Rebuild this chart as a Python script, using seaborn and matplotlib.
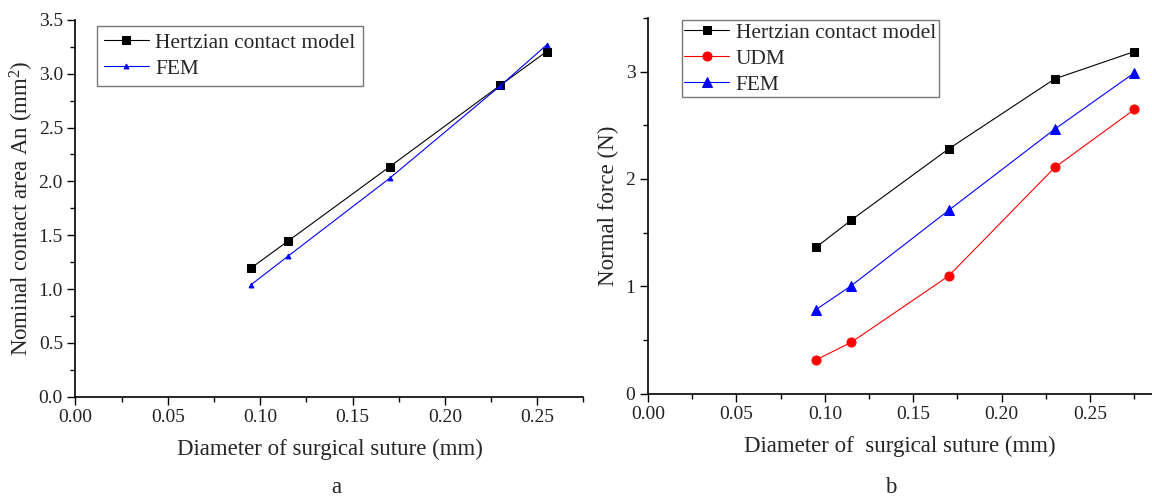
import matplotlib
matplotlib.use("Agg")
import matplotlib.pyplot as plt
from matplotlib.ticker import MultipleLocator, FormatStrFormatter
import seaborn as sns
import pandas as pd

# Panel a: nominal contact area vs suture diameter
diam_a = [0.095, 0.115, 0.17, 0.23, 0.255]
area_hertz = [1.195, 1.445, 2.135, 2.893, 3.205]
area_fem = [1.040, 1.305, 2.028, 2.888, 3.266]

# Panel b: normal force vs suture diameter
diam_b = [0.095, 0.115, 0.17, 0.23, 0.275]
force_hertz = [1.364, 1.618, 2.280, 2.932, 3.186]
force_udm = [0.316, 0.480, 1.097, 2.107, 2.647]
force_fem = [0.784, 1.007, 1.708, 2.464, 2.988]

sns.set_theme(style="ticks")
plt.rcParams["font.family"] = ["Liberation Serif", "DejaVu Serif"]
plt.rcParams["mathtext.fontset"] = "custom"
plt.rcParams["mathtext.rm"] = "Liberation Serif"
plt.rcParams["mathtext.it"] = "Liberation Serif:italic"
plt.rcParams["xtick.direction"] = "out"
plt.rcParams["ytick.direction"] = "out"

fig = plt.figure(figsize=(11.52, 4.96), dpi=100)
ax1 = fig.add_axes([0.0655, 0.2, 0.441, 0.76])
ax2 = fig.add_axes([0.5625, 0.206, 0.4375, 0.758])

TICK_FS = 14
LABEL_FS = 16.5
LEGEND_FS = 15.4


def draw(ax, x, y, color, marker, ms, label):
    df = pd.DataFrame({"x": x, "y": y})
    sns.lineplot(data=df, x="x", y="y", ax=ax, color=color, marker=marker,
                 markersize=ms, markeredgecolor=color, linewidth=0.8,
                 label=label, sort=False)


draw(ax1, diam_a, area_hertz, "black", "s", 6, "Hertzian contact model")
draw(ax1, diam_a, area_fem, "#0000ff", "^", 3.5, "FEM")

draw(ax2, diam_b, force_hertz, "black", "s", 6, "Hertzian contact model")
draw(ax2, diam_b, force_udm, "#ff0000", "o", 6.5, "UDM")
draw(ax2, diam_b, force_fem, "#0000ff", "^", 7.5, "FEM")

for ax in (ax1, ax2):
    sns.despine(ax=ax)
    for sp in ("left", "bottom"):
        ax.spines[sp].set_linewidth(1.2)
        ax.spines[sp].set_color("black")
    ax.xaxis.set_major_locator(MultipleLocator(0.05))
    ax.xaxis.set_minor_locator(MultipleLocator(0.025))
    ax.xaxis.set_major_formatter(FormatStrFormatter("%.2f"))
    ax.tick_params(which="major", length=5.5, width=1, labelsize=TICK_FS,
                   color="black", labelcolor="#222222")
    ax.tick_params(which="minor", length=3.5, width=1, color="black")

legend_style = dict(loc="upper left", fontsize=LEGEND_FS, frameon=True,
                    fancybox=False, edgecolor="#777777", framealpha=1,
                    handlelength=2.1, labelspacing=0.28, handletextpad=0.3,
                    borderaxespad=0.5)

ax1.set_xlim(0, 0.275)
ax1.set_ylim(0, 3.5)
ax1.yaxis.set_major_locator(MultipleLocator(0.5))
ax1.yaxis.set_minor_locator(MultipleLocator(0.25))
ax1.yaxis.set_major_formatter(FormatStrFormatter("%.1f"))
ax1.set_xlabel("Diameter of surgical suture (mm)", fontsize=LABEL_FS, labelpad=9)
ax1.set_ylabel("Nominal contact area An (mm$^{2}$)", fontsize=LABEL_FS, labelpad=2)
leg1 = ax1.legend(bbox_to_anchor=(0.021, 1.013), borderpad=0.33, **legend_style)
leg1.get_frame().set_linewidth(1.0)

ax2.set_xlim(0, 0.285)
ax2.set_ylim(0, 3.5)
ax2.yaxis.set_major_locator(MultipleLocator(1))
ax2.yaxis.set_minor_locator(MultipleLocator(0.5))
ax2.set_xlabel("Diameter of  surgical suture (mm)", fontsize=LABEL_FS, labelpad=9)
ax2.set_ylabel("Normal force (N)", fontsize=LABEL_FS, labelpad=5)
leg2 = ax2.legend(bbox_to_anchor=(0.046, 1.022), borderpad=0.12, **legend_style)
leg2.get_frame().set_linewidth(1.0)

fig.text(0.292, 0.006, "a", fontsize=LABEL_FS, ha="center", va="baseline")
fig.text(0.773, 0.006, "b", fontsize=LABEL_FS, ha="center", va="baseline")

fig.savefig("out.png", dpi=100)
